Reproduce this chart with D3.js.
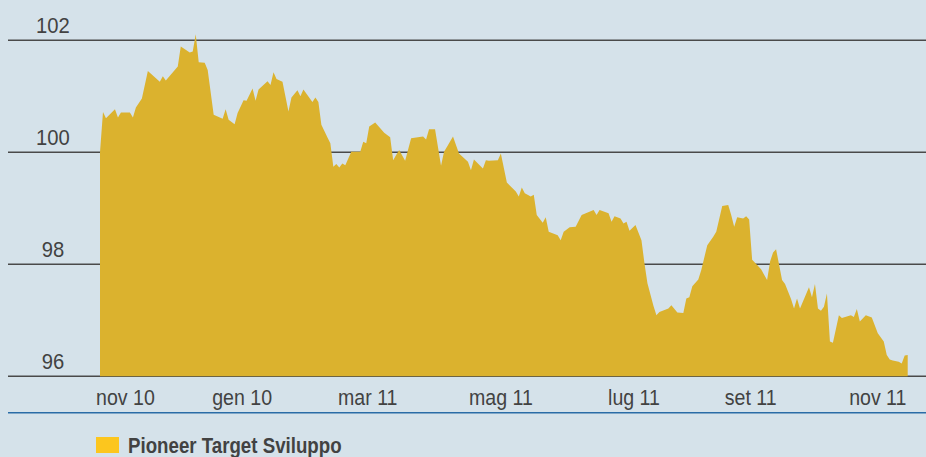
<!DOCTYPE html>
<html>
<head>
<meta charset="utf-8">
<script src="https://cdn.jsdelivr.net/npm/d3@7"></script>
<style>
  html, body { margin: 0; padding: 0; background: #d5e2ea; }
  svg { display: block; }
  .lbl { font-family: "Liberation Sans", Arial, sans-serif; fill: #424242; }
</style>
</head>
<body>
<script>
// ---------------- data (trading session index -> NAV) ----------------
var sessions = [0,1,2,5,6,7,10,11,12,14,16,20,21,22,26,27,30,31,32,33,35,36,38,41,42,43,45,46,48,49,
  51,52,53,56,57,58,59,61,63,64,66,67,68,71,72,73,74,76,77,78,79,80,81,82,84,87,88,89,90,92,
  95,97,98,99,100,102,104,108,109,110,112,114,115,116,118,120,123,124,125,128,129,130,133,134,136,139,140,141,142,144,
  145,146,148,149,150,153,154,155,157,159,161,165,166,167,170,171,172,174,175,176,177,179,181,182,183,185,186,187,190,191,
  193,195,196,197,198,200,201,203,205,206,208,210,211,212,213,215,216,217,218,221,223,224,225,226,228,229,231,232,233,234,
  237,238,239,240,241,242,243,244,245,247,248,251,252,253,254,256,258,260,262,263,264,265,267,268,269,270];
var values = [100.0,100.72,100.61,100.77,100.62,100.71,100.71,100.62,100.8,100.96,101.45,101.26,101.36,101.28,101.53,101.89,101.78,101.8,102.11,101.61,
  101.6,101.47,100.67,100.6,100.77,100.58,100.5,100.7,100.93,100.92,101.14,100.92,101.12,101.27,101.2,101.43,101.31,101.26,100.73,100.98,
  101.11,101.0,101.12,100.9,100.98,100.9,100.49,100.27,100.16,99.74,99.79,99.73,99.8,99.77,100.01,100.01,100.19,100.16,100.46,100.53,
  100.35,100.27,99.86,99.95,100.04,99.85,100.25,100.28,100.23,100.41,100.41,99.76,100.01,100.1,100.28,99.98,99.83,99.68,99.87,99.71,
  99.86,99.85,99.86,99.98,99.46,99.3,99.21,99.37,99.27,99.21,99.24,98.88,98.74,98.84,98.58,98.52,98.43,98.58,98.66,98.67,
  98.88,98.97,98.88,98.97,98.91,98.76,98.86,98.82,98.73,98.76,98.6,98.7,98.43,98.02,97.66,97.26,97.09,97.15,97.21,97.27,
  97.14,97.13,97.39,97.41,97.61,97.73,97.9,98.34,98.49,98.58,99.04,99.06,98.88,98.67,98.84,98.82,98.86,98.8,98.08,97.91,
  97.72,98.05,98.21,98.27,97.72,97.65,97.38,97.21,97.39,97.21,97.59,97.41,97.65,97.21,97.17,97.24,97.48,96.62,96.6,97.09,
  97.04,97.09,97.06,97.2,96.98,97.09,97.05,96.77,96.62,96.38,96.3,96.28,96.26,96.23,96.37,96.38];

var yTicks = [96, 98, 100, 102];
var xTickSessions = [8.5, 47.5, 89.5, 134, 178.5, 217.5, 260];
var xTickLabels = ["nov 10", "gen 10", "mar 11", "mag 11", "lug 11", "set 11", "nov 11"];
var seriesName = "Pioneer Target Sviluppo";

// ---------------- layout ----------------
var width = 926, height = 457;
var svg = d3.select("body").append("svg")
    .attr("width", width).attr("height", height);

svg.append("rect").attr("width", width).attr("height", height).attr("fill", "#d5e2ea");

var x = d3.scaleLinear().domain([0, 270]).range([100, 907.7]);
var y = d3.scaleLinear().domain([96, 102]).range([376.3, 40.3]);

var data = sessions.map(function(s, i) { return {s: s, v: values[i]}; });

// narrow look: squeeze the glyphs horizontally around the anchor point
function squeeze(px, py, k) {
  return "translate(" + px + "," + py + ") scale(" + k + ",1)";
}

// gridlines + y labels
var grid = svg.append("g");
grid.selectAll("line").data(yTicks).enter().append("line")
    .attr("x1", 8).attr("x2", width)
    .attr("y1", function(d) { return y(d); })
    .attr("y2", function(d) { return y(d); })
    .attr("stroke", "#4a4a4a").attr("stroke-width", 1.5);

grid.selectAll("text").data(yTicks).enter().append("text")
    .attr("class", "lbl")
    .attr("transform", function(d) { return squeeze(53, y(d) - 7, 0.92); })
    .attr("text-anchor", "middle")
    .style("font-size", "22px")
    .text(function(d) { return d; });

// area
var area = d3.area()
    .x(function(d) { return x(d.s); })
    .y0(y(96))
    .y1(function(d) { return y(d.v); });

svg.append("path")
    .datum(data)
    .attr("d", area)
    .attr("fill", "#dbb22e");

// x labels
svg.append("g").selectAll("text")
    .data(xTickSessions).enter().append("text")
    .attr("class", "lbl")
    .attr("transform", function(d) { return squeeze(x(d), 405, 0.89); })
    .attr("text-anchor", "middle")
    .style("font-size", "22px")
    .text(function(d, i) { return xTickLabels[i]; });

// blue rule
svg.append("line")
    .attr("x1", 8).attr("x2", width)
    .attr("y1", 412.7).attr("y2", 412.7)
    .attr("stroke", "#2a6ca6").attr("stroke-width", 1.5);

// legend
var legend = svg.append("g");
legend.append("rect")
    .attr("x", 96).attr("y", 437).attr("width", 23).attr("height", 16)
    .attr("fill", "#fcc61e");
legend.append("text")
    .attr("class", "lbl")
    .attr("transform", squeeze(128, 453, 0.85))
    .style("font-size", "22px").style("font-weight", "bold")
    .text(seriesName);
</script>
</body>
</html>
